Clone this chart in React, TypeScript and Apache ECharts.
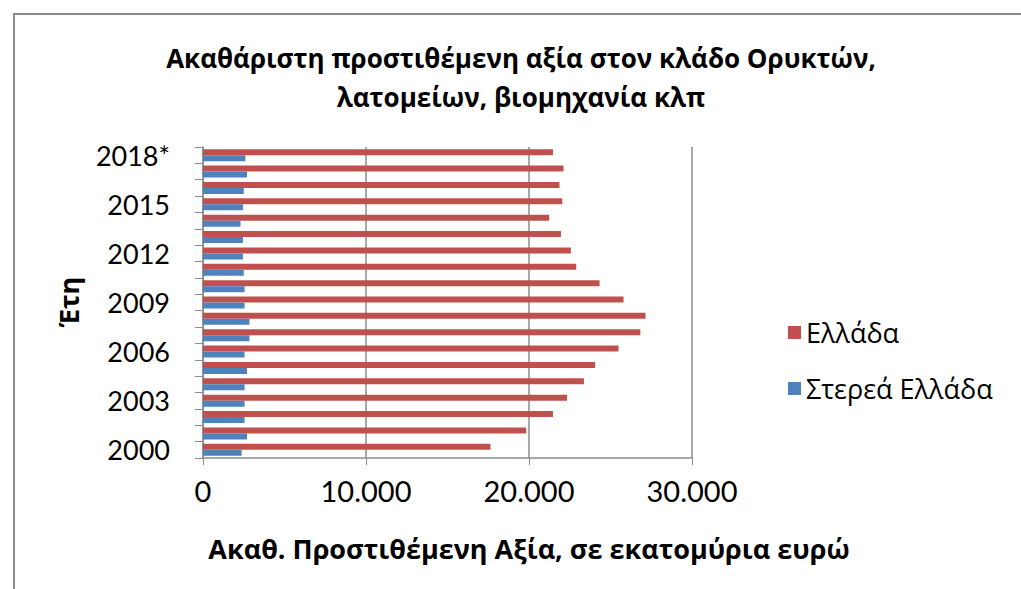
import React, { useEffect, useRef } from "react";
import * as echarts from "echarts";

const years = ["2000","2001","2002","2003","2004","2005","2006","2007","2008","2009","2010","2011","2012","2013","2014","2015","2016","2017","2018*"];
const greece = [17640,19830,21470,22330,23370,24060,25490,26830,27150,25800,24330,22900,22570,21960,21240,22040,21870,22120,21470];
const stereaEllada = [2370,2700,2550,2550,2550,2700,2550,2850,2850,2550,2550,2500,2450,2450,2300,2450,2500,2700,2600];
const xTicks = [0, 10000, 20000, 30000];

const titleLines = ["Ακαθάριστη προστιθέμενη αξία στον κλάδο Ορυκτών,", "λατομείων, βιομηχανία κλπ"];
const xName = "Ακαθ. Προστιθέμενη Αξία, σε εκατομύρια ευρώ";
const yName = "Έτη";

const NUMFONT = "Lato, 'Open Sans', sans-serif";
const GRFONT = "'Open Sans', sans-serif";

function fmt(v: number) {
  return String(v).replace(/\B(?=(\d{3})+(?!\d))/g, ".");
}

export default function App() {
  const ref = useRef<HTMLDivElement>(null);
  useEffect(() => {
    const chart = echarts.init(ref.current!, undefined, { renderer: "svg" });
    chart.setOption({
      animation: false,
      backgroundColor: "#ffffff",
      textStyle: { fontFamily: NUMFONT },
      graphic: [
        { type: "rect", shape: { x: 14, y: 14, width: 1030, height: 600 }, style: { fill: "none", stroke: "#8a8a8a", lineWidth: 2 } },
        { type: "text", x: 521, y: 58, style: { text: titleLines[0], font: `bold 26px ${GRFONT}`, fill: "#000", align: "center", verticalAlign: "middle" } },
        { type: "text", x: 521, y: 97, style: { text: titleLines[1], font: `bold 26px ${GRFONT}`, fill: "#000", align: "center", verticalAlign: "middle" } },
        { type: "text", x: 529, y: 548, style: { text: xName, font: `bold 27px ${GRFONT}`, fill: "#000", align: "center", verticalAlign: "middle" } },
        { type: "text", x: 68, y: 302, rotation: Math.PI / 2, style: { text: yName, font: `bold 27px ${GRFONT}`, fill: "#000", align: "center", verticalAlign: "middle" } },
      ],
      legend: {
        data: ["Ελλάδα", "Στερεά Ελλάδα"],
        orient: "vertical",
        left: 783,
        top: 314,
        itemWidth: 13,
        itemHeight: 13,
        itemGap: 29,
        icon: "rect",
        textStyle: { fontSize: 27, fontFamily: GRFONT, color: "#000" },
      },
      grid: { left: 203, top: 147, width: 489, height: 311, containLabel: false },
      xAxis: {
        type: "value",
        min: 0,
        max: 30000,
        interval: 10000,
        axisLine: { show: true, lineStyle: { color: "#8c8c8c", width: 1.5 } },
        axisTick: { show: true, length: 7, lineStyle: { color: "#8c8c8c" } },
        splitLine: { show: true, lineStyle: { color: "#8c8c8c", width: 1.5 } },
        axisLabel: { fontSize: 29, color: "#000", margin: 18, formatter: (v: number) => (xTicks.includes(v) ? fmt(v) : "") },
      },
      yAxis: {
        type: "category",
        data: years,
        axisLine: { show: true, lineStyle: { color: "#8c8c8c", width: 1.5 } },
        axisTick: { show: true, length: 8, interval: 0, lineStyle: { color: "#8c8c8c" } },
        axisLabel: { fontSize: 27, color: "#000", margin: 33, interval: 2 },
      },
      series: [
        { name: "Ελλάδα", type: "bar", data: greece, barWidth: 6, barGap: "0%", itemStyle: { color: "#C0504D" } },
        { name: "Στερεά Ελλάδα", type: "bar", data: stereaEllada, barWidth: 6, barGap: "0%", itemStyle: { color: "#4F81BD" } },
      ],
    });
    return () => chart.dispose();
  }, []);
  return <div ref={ref} style={{ position: "absolute", left: 0, top: 0, width: 1021, height: 589 }} />;
}
